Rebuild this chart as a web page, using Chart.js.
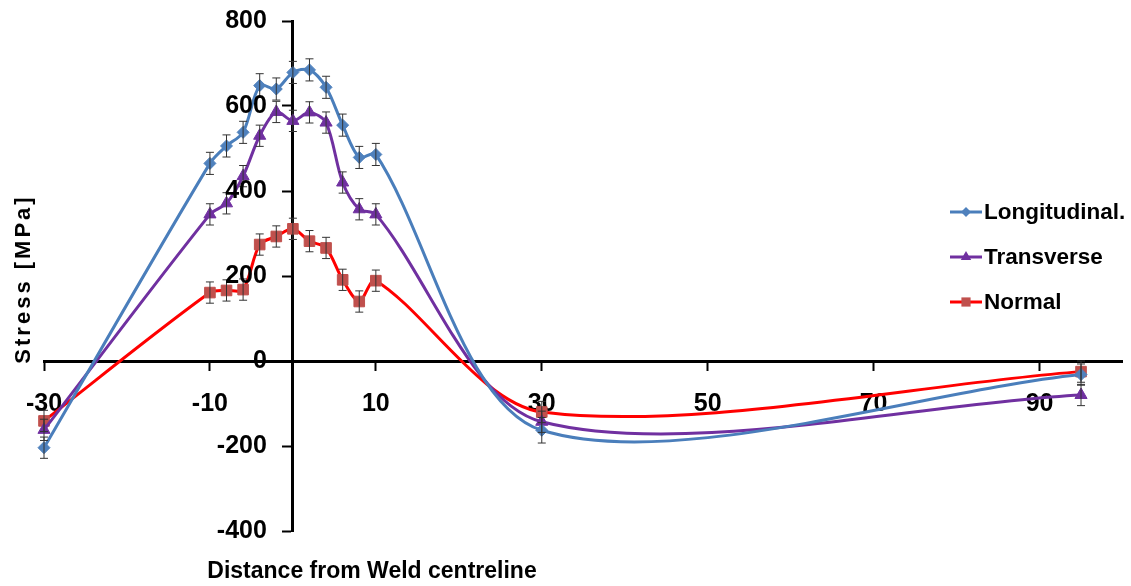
<!DOCTYPE html>
<html>
<head>
<meta charset="utf-8">
<script src="https://cdn.jsdelivr.net/npm/chart.js@4.4.0/dist/chart.umd.min.js"></script>
<style>
html, body { margin: 0; padding: 0; background: #fff; }
</style>
</head>
<body>
<canvas id="canvas" width="1131" height="586"></canvas>
<script>
var distance = [-30, -10, -8, -6, -4, -2, 0, 2, 4, 6, 8, 10, 30, 95];
var longitudinal = [-204, 465, 506, 538, 648, 640, 679, 685, 644, 555, 479, 486, -163, -32];
var transverse = [-162, 345, 371, 435, 530, 586, 565, 585, 561, 420, 357, 345, -143, -80];
var normal = [-141, 161, 166, 168, 274, 293, 311, 282, 266, 191, 140, 189, -120, -25];
var longErr = [25, 26, 26, 26, 28, 26, 26, 26, 26, 26, 26, 26, 30, 25];
var transErr = [25, 25, 25, 25, 25, 25, 25, 25, 25, 25, 25, 25, 25, 25];
var normErr = [25, 25, 25, 25, 25, 25, 25, 25, 25, 25, 25, 25, 25, 25];
var xTicks = [-30, -10, 10, 30, 50, 70, 90];
var yTicks = [-400, -200, 0, 200, 400, 600, 800];

function points(ys) {
    return distance.map(function(x, i) { return {x: x, y: ys[i]}; });
}

var data = {
    datasets: [{
        label: 'Longitudinal.',
        data: points(longitudinal),
        errors: longErr,
        borderColor: '#4A7EBB',
        backgroundColor: '#4F81BD',
        pointBorderColor: '#4F81BD',
        pointStyle: 'rectRot',
        pointRadius: 6
    }, {
        label: 'Transverse',
        data: points(transverse),
        errors: transErr,
        borderColor: '#7030A0',
        backgroundColor: '#7030A0',
        pointBorderColor: '#7030A0',
        pointStyle: 'triangle',
        pointRadius: 7
    }, {
        label: 'Normal',
        data: points(normal),
        errors: normErr,
        borderColor: '#FF0000',
        backgroundColor: '#C0504D',
        pointBorderColor: '#C0504D',
        pointStyle: 'rect',
        pointRadius: 7.5
    }]
};

var errorBars = {
    id: 'errorBars',
    afterDatasetsDraw: function(chart) {
        var ctx = chart.ctx;
        var y = chart.scales.y;
        ctx.save();
        ctx.strokeStyle = '#333';
        ctx.lineWidth = 1;
        chart.data.datasets.forEach(function(ds, i) {
            chart.getDatasetMeta(i).data.forEach(function(pt, j) {
                var v = ds.data[j].y, e = ds.errors[j];
                var top = y.getPixelForValue(v + e), bot = y.getPixelForValue(v - e);
                ctx.beginPath();
                ctx.moveTo(pt.x, top); ctx.lineTo(pt.x, bot);
                ctx.moveTo(pt.x - 4, top); ctx.lineTo(pt.x + 4, top);
                ctx.moveTo(pt.x - 4, bot); ctx.lineTo(pt.x + 4, bot);
                ctx.stroke();
            });
        });
        ctx.restore();
    }
};

function marker(ctx, style, x, y, r) {
    ctx.beginPath();
    if (style == 'rectRot') {
        ctx.moveTo(x, y - r); ctx.lineTo(x + r, y); ctx.lineTo(x, y + r); ctx.lineTo(x - r, y);
    } else if (style == 'triangle') {
        ctx.moveTo(x, y - r); ctx.lineTo(x + r * 0.87, y + r * 0.5); ctx.lineTo(x - r * 0.87, y + r * 0.5);
    } else {
        var s = r * Math.SQRT1_2;
        ctx.rect(x - s, y - s, 2 * s, 2 * s);
    }
    ctx.closePath();
    ctx.fill();
}

var labels = {
    id: 'labels',
    afterDraw: function(chart) {
        var ctx = chart.ctx;
        var xs = chart.scales.x, ys = chart.scales.y;
        ctx.save();
        ctx.fillStyle = '#000';

        // y tick labels, left of the axis that crosses at x = 0
        ctx.font = 'bold 25px "Liberation Sans"';
        ctx.textAlign = 'right';
        ctx.textBaseline = 'middle';
        var ax = xs.getPixelForValue(0);
        yTicks.forEach(function(v) {
            ctx.fillText(String(v), ax - 26, ys.getPixelForValue(v));
        });

        ctx.font = 'bold 23px "Liberation Sans"';
        ctx.textAlign = 'center';
        ctx.fillText('Distance from Weld centreline', 372, 572);

        ctx.translate(24, 279);
        ctx.rotate(-Math.PI / 2);
        ctx.letterSpacing = '3px';
        ctx.font = 'bold 22px "Liberation Sans"';
        ctx.fillText('Stress [MPa]', 0, 0);
        ctx.restore();

        // legend
        ctx.save();
        var rows = [212, 257, 302];
        chart.data.datasets.forEach(function(ds, i) {
            var ly = rows[i];
            ctx.strokeStyle = ds.borderColor;
            ctx.lineWidth = 3;
            ctx.beginPath();
            ctx.moveTo(950, ly); ctx.lineTo(982, ly);
            ctx.stroke();
            ctx.fillStyle = ds.backgroundColor;
            marker(ctx, ds.pointStyle, 966, ly, ds.pointRadius - 1);
            ctx.fillStyle = '#000';
            ctx.font = 'bold 22.5px "Liberation Sans"';
            ctx.textAlign = 'left';
            ctx.textBaseline = 'middle';
            ctx.fillText(ds.label, 984, ly + 1);
        });
        ctx.restore();
    }
};

window.onload = function() {
    var ctx = document.getElementById('canvas').getContext('2d');
    window.chart = new Chart(ctx, {
        type: 'line',
        data: data,
        plugins: [errorBars, labels],
        options: {
            responsive: false,
            animation: false,
            clip: false,
            layout: { padding: { left: 44, right: 6, top: 21, bottom: 55 } },
            elements: {
                line: { borderWidth: 3, tension: 0.3 },
                point: { borderWidth: 1 }
            },
            plugins: {
                legend: { display: false },
                tooltip: { enabled: false }
            },
            scales: {
                x: {
                    type: 'linear',
                    position: { y: 0 },
                    min: -30,
                    max: 100,
                    afterBuildTicks: function(scale) {
                        scale.ticks = xTicks.map(function(v) { return {value: v}; });
                    },
                    grid: { drawOnChartArea: false, tickLength: 8, tickWidth: 2, tickColor: '#000' },
                    border: { color: '#000', width: 3 },
                    ticks: {
                        color: '#000',
                        padding: 20,
                        maxRotation: 0,
                        font: { family: 'Liberation Sans', size: 25, weight: 'bold' }
                    }
                },
                y: {
                    type: 'linear',
                    position: { x: 0 },
                    min: -400,
                    max: 800,
                    afterBuildTicks: function(scale) {
                        scale.ticks = yTicks.map(function(v) { return {value: v}; });
                    },
                    grid: { drawOnChartArea: false, tickLength: 9, tickWidth: 2, tickColor: '#000' },
                    border: { color: '#000', width: 3 },
                    ticks: { display: false }
                }
            }
        }
    });
};
</script>
</body>
</html>
